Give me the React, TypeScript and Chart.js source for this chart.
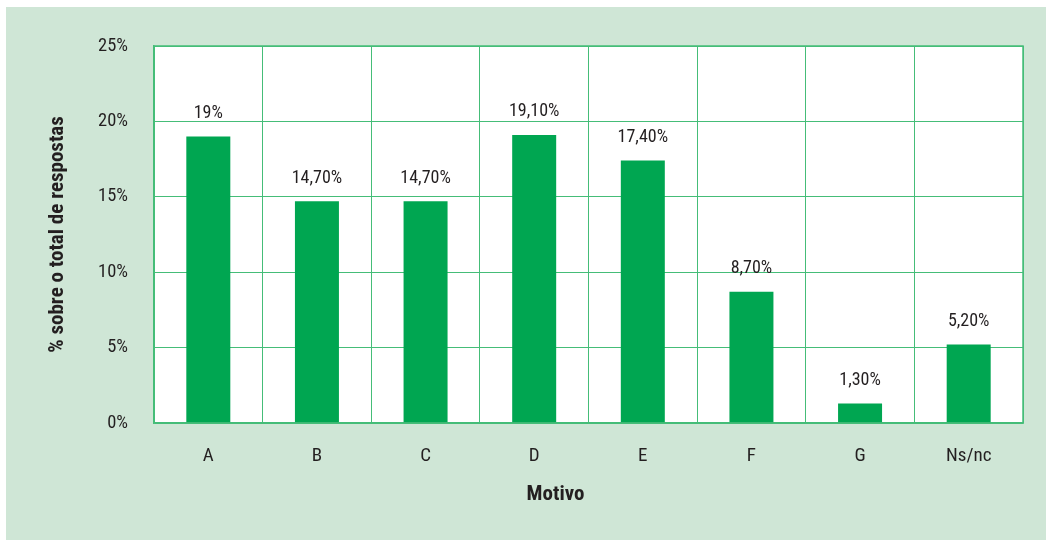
import React, { useEffect, useRef } from "react";
import { Chart, registerables } from "chart.js";

Chart.register(...registerables);

const categories = ["A", "B", "C", "D", "E", "F", "G", "Ns/nc"];
const values = [19, 14.7, 14.7, 19.1, 17.4, 8.7, 1.3, 5.2];
const valueLabels = ["19%", "14,70%", "14,70%", "19,10%", "17,40%", "8,70%", "1,30%", "5,20%"];
const yTicks = [0, 5, 10, 15, 20, 25];
const yTitle = "% sobre o total de respostas";
const xTitle = "Motivo";

const FONT = "'Roboto Condensed', 'Open Sans Condensed', 'DejaVu Sans Condensed', sans-serif";
const TEXT = "#231f20";
const BAR = "#00a651";
const GRID = "#45bd78";

const labelsPlugin = {
  id: "customLabels",
  afterDatasetsDraw(chart: any) {
    const ctx = chart.ctx;
    const meta = chart.getDatasetMeta(0);
    ctx.save();
    ctx.fillStyle = TEXT;
    ctx.font = `18px ${FONT}`;
    ctx.textAlign = "center";
    ctx.textBaseline = "middle";
    meta.data.forEach((el: any, i: number) => {
      ctx.fillText(valueLabels[i], el.x, el.y - 23);
    });
    const a = chart.chartArea;
    ctx.font = `bold 21px ${FONT}`;
    ctx.fillText(xTitle, a.left + (a.right - a.left) * 0.462, 495);
    ctx.translate(58, (a.top + a.bottom) / 2);
    ctx.rotate(-Math.PI / 2);
    ctx.fillText(yTitle, 0, 0);
    ctx.restore();
  },
};

export default function App() {
  const ref = useRef<HTMLCanvasElement>(null);
  useEffect(() => {
    document.body.style.margin = "0";
    if (!ref.current) return;
    const chart = new Chart(ref.current, {
      type: "bar",
      data: {
        labels: categories,
        datasets: [
          {
            data: values,
            backgroundColor: BAR,
            borderWidth: 0,
            barPercentage: 0.405,
            categoryPercentage: 1,
          },
        ],
      },
      options: {
        animation: false,
        responsive: false,
        maintainAspectRatio: false,
        layout: { padding: { left: 0, right: 29, top: 46, bottom: 0 } },
        plugins: { legend: { display: false }, tooltip: { enabled: false } },
        scales: {
          x: {
            afterFit: (axis: any) => {
              axis.height = 117;
            },
            grid: { display: true, color: GRID, lineWidth: 1, drawTicks: false, offset: true },
            border: { display: true, color: GRID, width: 1.5 },
            ticks: { color: TEXT, font: { family: FONT, size: 19 }, padding: 22 },
          },
          y: {
            min: 0,
            max: 25,
            afterBuildTicks: (axis: any) => {
              axis.ticks = yTicks.map((v) => ({ value: v }));
            },
            afterFit: (axis: any) => {
              axis.width = 154;
            },
            grid: { color: GRID, lineWidth: 1, drawTicks: false },
            border: { display: true, color: GRID, width: 1.5 },
            ticks: {
              color: TEXT,
              font: { family: FONT, size: 18.5 },
              padding: 26,
              callback: (v: any) => `${v}%`,
            },
          },
        },
      },
      plugins: [
        labelsPlugin,
        {
          id: "frame",
          afterDraw(chart: any) {
            const a = chart.chartArea;
            const ctx = chart.ctx;
            ctx.save();
            ctx.strokeStyle = GRID;
            ctx.lineWidth = 1.5;
            ctx.strokeRect(a.left, a.top, a.right - a.left, a.bottom - a.top);
            ctx.restore();
          },
        },
        {
          id: "areaBg",
          beforeDraw(chart: any) {
            const a = chart.chartArea;
            const ctx = chart.ctx;
            ctx.save();
            ctx.fillStyle = "#ffffff";
            ctx.fillRect(a.left, a.top, a.right - a.left, a.bottom - a.top);
            ctx.restore();
          },
        },
      ],
    });
    return () => chart.destroy();
  }, []);
  return (
    <div style={{ position: "relative", width: 1052, height: 540, background: "#ffffff", overflow: "hidden" }}>
      <div
        style={{
          position: "absolute",
          left: 6,
          top: 7,
          width: 1040,
          height: 533,
          background: "#cfe6d6",
        }}
      />
      <canvas
        ref={ref}
        width={1052}
        height={540}
        style={{ position: "absolute", left: 0, top: 0, width: 1052, height: 540, display: "block" }}
      />
    </div>
  );
}
